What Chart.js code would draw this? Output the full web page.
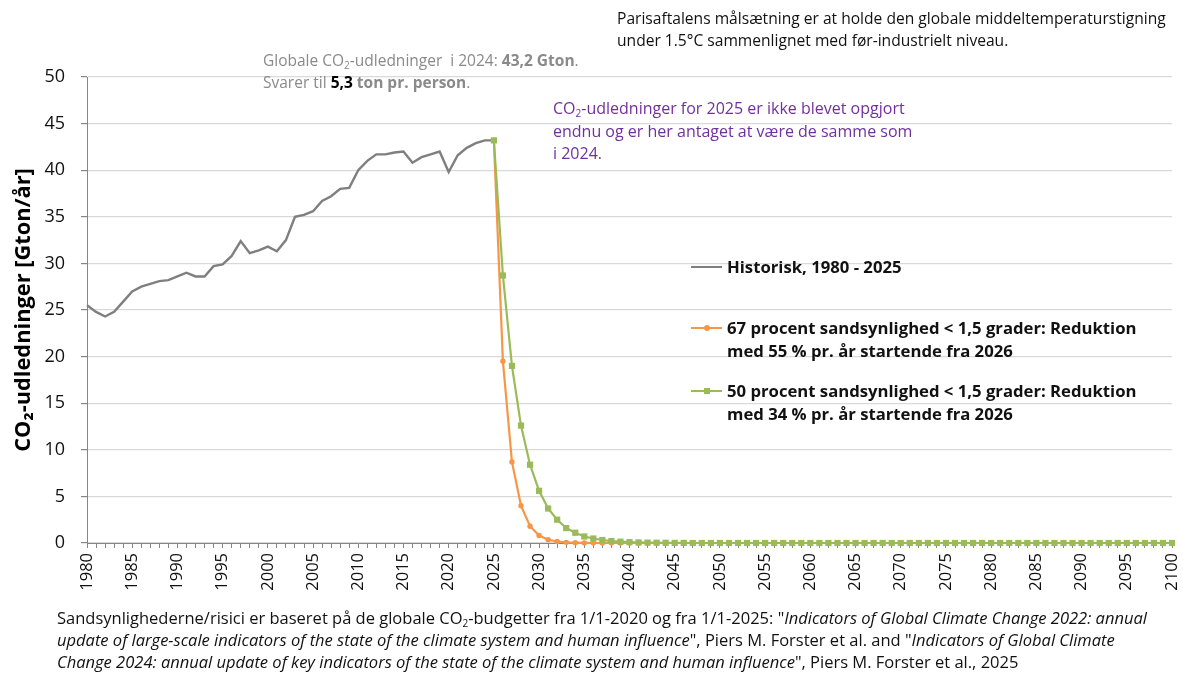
<!DOCTYPE html>
<html>
<head>
<meta charset="utf-8">
<script src="https://cdn.jsdelivr.net/npm/chart.js@4/dist/chart.umd.min.js"></script>
<style>
  body { margin:0; background:#fff; font-family: "Open Sans", Lato, sans-serif; }
  #wrap { position:relative; width:1183px; height:675px; overflow:hidden; }
  #chart { position:absolute; left:0; top:0; }
  .txt { position:absolute; white-space:nowrap; font-size:15px; line-height:22px; }
  .leg { position:absolute; white-space:nowrap; font-size:16.7px; line-height:23px; font-weight:bold; color:#111; }
  .sample { position:absolute; height:2px; width:31px; }
  .dot { position:absolute; }
  sub { font-size:10px; vertical-align:-3px; line-height:0; }
</style>
</head>
<body>
<div id="wrap">
  <canvas id="chart" width="1183" height="675"></canvas>

  <!-- tekst oppe til hoejre -->
  <div class="txt" style="left:617px; top:7px; color:#111; font-size:15.6px;">Parisaftalens målsætning er at holde den globale middeltemperaturstigning<br>under 1.5°C sammenlignet med før-industrielt niveau.</div>

  <!-- graa note -->
  <div class="txt" style="left:263px; top:49px; color:#8a8a8a; font-size:15.5px;">Globale CO<sub>2</sub>-udledninger &nbsp;i 2024: <b>43,2 Gton</b>.<br>Svarer til <b style="color:#000">5,3</b> <b>ton pr. person</b>.</div>

  <!-- lilla note -->
  <div class="txt" style="left:553px; top:97px; color:#7030a0; line-height:22.5px; font-size:16px;">CO<sub>2</sub>-udledninger for 2025 er ikke blevet opgjort<br>endnu og er her antaget at være de samme som<br>i 2024.</div>

  <!-- legend -->
  <div class="sample" style="left:691px; top:266px; background:#7f7f7f;"></div>
  <div class="leg" style="left:727px; top:255px;">Historisk, 1980 - 2025</div>

  <div class="sample" style="left:691px; top:327px; background:#f79646;"></div>
  <div class="dot" style="left:704px; top:325px; width:6px; height:6px; border-radius:3px; background:#f79646;"></div>
  <div class="leg" style="left:727px; top:316px;">67 procent sandsynlighed &lt; 1,5 grader: Reduktion<br>med 55 % pr. år startende fra 2026</div>

  <div class="sample" style="left:691px; top:390px; background:#9bbb59;"></div>
  <div class="dot" style="left:704px; top:388px; width:6px; height:6px; background:#9bbb59;"></div>
  <div class="leg" style="left:727px; top:379px;">50 procent sandsynlighed &lt; 1,5 grader: Reduktion<br>med 34 % pr. år startende fra 2026</div>

  <!-- kilde -->
  <div class="txt" style="left:57px; top:607px; color:#111; font-size:16.5px;">Sandsynlighederne/risici er baseret på de globale CO<sub>2</sub>-budgetter fra 1/1-2020 og fra 1/1-2025: "<i>Indicators of Global Climate Change 2022: annual</i><br><i>update of large-scale indicators of the state of the climate system and human influence</i>", Piers M. Forster et al. and "<i>Indicators of Global Climate</i><br><i>Change 2024: annual update of key indicators of the state of the climate system and human influence</i>", Piers M. Forster et al., 2025</div>
</div>

<script>
//aarstal
var histStart = 1980;
var scenStart = 2025;

//historisk udledning 1980 - 2025 (Gton/aar)
var histValues = [
  25.5, 24.8, 24.3, 24.8, 25.9, 27.0, 27.5, 27.8, 28.1, 28.2,
  28.6, 29.0, 28.6, 28.6, 29.7, 29.9, 30.8, 32.4, 31.1, 31.4,
  31.8, 31.3, 32.5, 35.0, 35.2, 35.6, 36.7, 37.2, 38.0, 38.1,
  40.0, 41.0, 41.7, 41.7, 41.9, 42.0, 40.8, 41.4, 41.7, 42.0,
  39.8, 41.6, 42.4, 42.9, 43.2, 43.2
];

//67 procent scenarie 2025 - 2100
var orangeValues = [
  43.2, 19.5, 8.7, 4.0, 1.8, 0.8, 0.36, 0.16, 0.07, 0.03,
  0.01, 0, 0, 0, 0, 0, 0, 0, 0, 0,
  0, 0, 0, 0, 0, 0, 0, 0, 0, 0,
  0, 0, 0, 0, 0, 0, 0, 0, 0, 0,
  0, 0, 0, 0, 0, 0, 0, 0, 0, 0,
  0, 0, 0, 0, 0, 0, 0, 0, 0, 0,
  0, 0, 0, 0, 0, 0, 0, 0, 0, 0,
  0, 0, 0, 0, 0, 0
];

//50 procent scenarie 2025 - 2100
var greenValues = [
  43.2, 28.7, 19.0, 12.6, 8.4, 5.6, 3.7, 2.5, 1.6, 1.1,
  0.7, 0.48, 0.32, 0.21, 0.14, 0.09, 0.06, 0.04, 0.03, 0.02,
  0.01, 0.01, 0, 0, 0, 0, 0, 0, 0, 0,
  0, 0, 0, 0, 0, 0, 0, 0, 0, 0,
  0, 0, 0, 0, 0, 0, 0, 0, 0, 0,
  0, 0, 0, 0, 0, 0, 0, 0, 0, 0,
  0, 0, 0, 0, 0, 0, 0, 0, 0, 0,
  0, 0, 0, 0, 0, 0
];

//y akse
var yMin = 0, yMax = 50, yStep = 5;

//lav {x,y} punkter ud fra startaar
function toPoints(start, values){
  var pts = [];
  for (var i = 0; i < values.length; i++){
    pts.push({x: start + i, y: values[i]});
  }
  return pts;
}

var font = "'Open Sans', Lato, sans-serif";

var ctx = document.getElementById("chart").getContext("2d");
var myChart = new Chart(ctx, {
  type: 'line',
  data: {
    datasets: [
      {
        label: '50 procent',
        data: toPoints(scenStart, greenValues),
        borderColor: '#9bbb59',
        backgroundColor: '#9bbb59',
        borderWidth: 2.2,
        pointStyle: 'rect',
        pointRadius: 4.4,
        pointBorderWidth: 0,
        order: 0,
        clip: false
      },
      {
        label: '67 procent',
        data: toPoints(scenStart, orangeValues),
        borderColor: '#f79646',
        backgroundColor: '#f79646',
        borderWidth: 2.2,
        pointStyle: 'circle',
        pointRadius: 2.7,
        pointBorderWidth: 0,
        order: 1,
        clip: false
      },
      {
        label: 'Historisk',
        data: toPoints(histStart, histValues),
        borderColor: '#7f7f7f',
        borderWidth: 2.4,
        pointRadius: 0,
        order: 2,
        clip: false
      }
    ]
  },
  options: {
    responsive: false,
    devicePixelRatio: 1,
    animation: false,
    layout: { padding: { left: 0, top: 77, right: 11, bottom: 72 } },
    plugins: { legend: { display: false }, tooltip: { enabled: false } },
    scales: {
      x: {
        type: 'linear',
        min: 1980,
        max: 2100,
        //fast hoejde og ingen ekstra plads til sidste label
        afterFit: function(s){ s.height = 60; s.paddingRight = 0; s.paddingLeft = 0; },
        border: { color: '#868686', width: 1 },
        grid: { drawOnChartArea: false, drawTicks: true, tickLength: 5, tickColor: '#868686' },
        ticks: {
          stepSize: 1,
          autoSkip: false,
          maxRotation: 90,
          minRotation: 90,
          padding: 5,
          color: '#111',
          font: { family: font, size: 16.5 },
          callback: function(v){ return v % 5 === 0 ? String(v) : ''; }
        }
      },
      y: {
        min: yMin,
        max: yMax,
        afterFit: function(s){ s.width = 87; },
        border: { color: '#868686', width: 1 },
        grid: { color: '#d9d9d9', lineWidth: 1.2, tickLength: 6, tickColor: '#868686' },
        ticks: {
          stepSize: yStep,
          padding: 16,
          color: '#111',
          font: { family: font, size: 18 }
        },
        title: {
          display: true,
          text: 'CO₂-udledninger [Gton/år]',
          color: '#000',
          padding: { top: 11, bottom: 0 },
          font: { family: font, size: 21.8, weight: 'bold' }
        }
      }
    }
  }
});
</script>
</body>
</html>
